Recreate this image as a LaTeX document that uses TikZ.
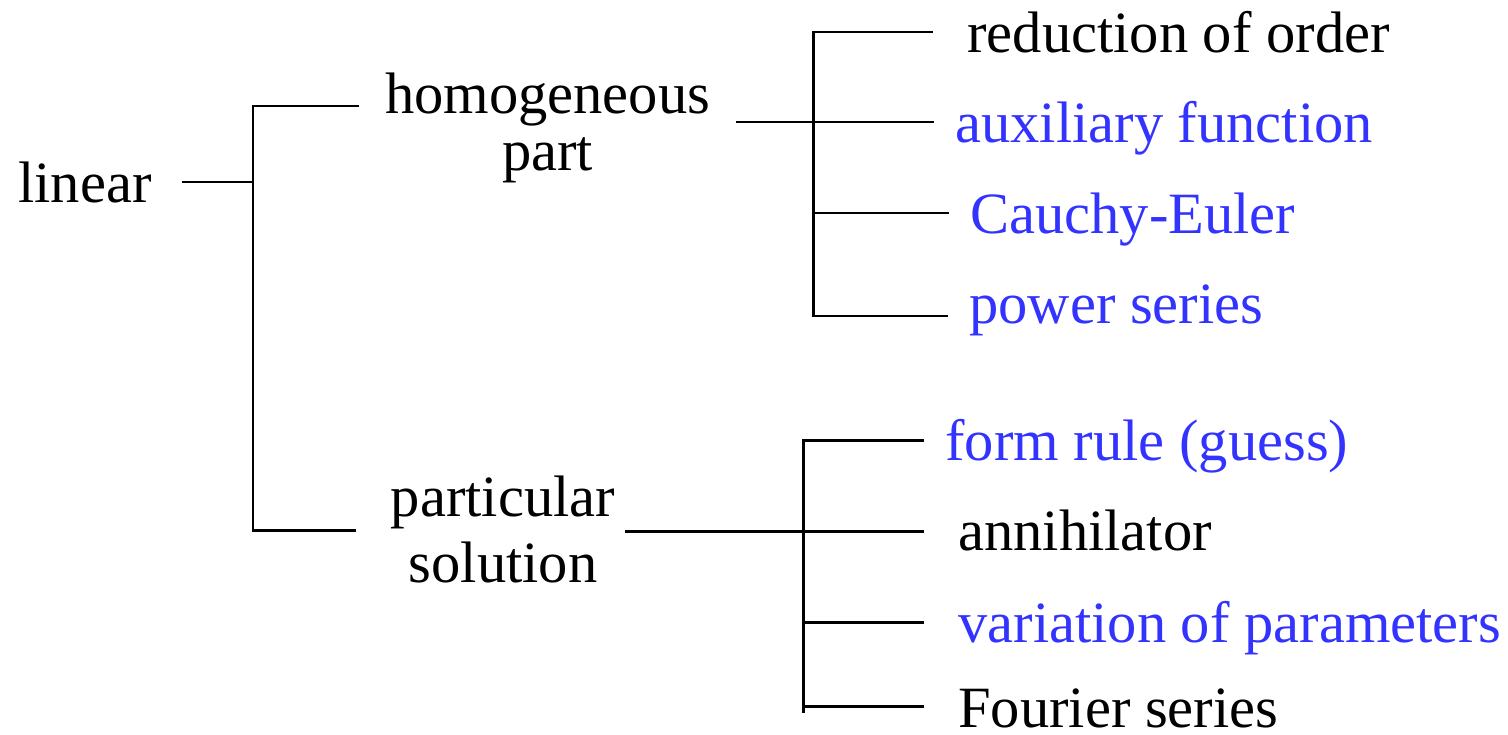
\documentclass[tikz,border=0pt]{standalone}
\usepackage{fontspec}
\setmainfont{Liberation Serif}
\definecolor{methodblue}{RGB}{51,51,255}
\tikzset{
	label/.style={font=\fontsize{33.3}{32.4}\selectfont, inner ysep=0pt},
	leaf/.style={label, anchor=base west, inner xsep=0.42cm},
	wide/.style={inner xsep=0.68cm},
	bracket/.style={line width=1.7pt}
}
\begin{document}
\begin{tikzpicture}[x=0.02cm, y=-0.02cm]
		
		\useasboundingbox (0,0) rectangle (1508,734);
		
		%Root
		\node (linearNode) at (-12,202) [leaf, inner xsep=0.6cm]{linear};
		
		\node (homogeneousPart) at (547.5,170) [label, anchor=base, align=center, inner xsep=0.52cm]{homogeneous\\part};
		\node (particularSolution) at (503,582) [label, anchor=base, align=center, inner xsep=0.2cm]{particular\\[5pt]solution};
		
		\coordinate (trunkTop) at (253,106);
		\coordinate (trunkMid) at (253,182);
		\coordinate (trunkBottom) at (253,530);
		
		\draw[bracket] (linearNode.east |- trunkMid) -- (trunkMid);
		\draw[bracket] (homogeneousPart.west |- trunkTop) -- (trunkTop) -- (trunkBottom) -- ([xshift=-0.5cm]particularSolution.west |- trunkBottom);
		
		%Homogeneous part
		\node (reductionOrder) at (933,52) [leaf, wide]{reduction of order};
		\node (auxiliaryFunction) at (934,142) [leaf, text=methodblue]{auxiliary function};
		\node (cauchyEuler) at (949,233) [leaf, text=methodblue]{Cauchy-Euler};
		\node (powerSeries) at (948,323) [leaf, text=methodblue]{power series};
		
		\coordinate (hpBranch1) at (813,32);
		\coordinate (hpBranch2) at (813,122);
		\coordinate (hpBranch3) at (813,213);
		\coordinate (hpBranch4) at (813,316);
		
		\draw[bracket] (reductionOrder.west |- hpBranch1) -- (hpBranch1) -- (hpBranch4) -- (hpBranch4 -| powerSeries.west);
		\draw[bracket] (homogeneousPart.east |- hpBranch2) -- (hpBranch2 -| auxiliaryFunction.west);
		\draw[bracket] (hpBranch3) -- (hpBranch3 -| cauchyEuler.west);
		
		%Particular solution
		\node (formRule) at (924,460) [leaf, text=methodblue]{form rule (guess)};
		\node (annihilator) at (924,550) [leaf, wide]{annihilator};
		\node (variationParameters) at (924,642) [leaf, wide, text=methodblue]{variation of parameters};
		\node (fourierSeries) at (924,727) [leaf, wide]{Fourier series};
		
		\coordinate (psBranch1) at (803,440);
		\coordinate (psBranch2) at (803,531);
		\coordinate (psBranch3) at (803,622);
		\coordinate (psBranch4) at (803,706);
		
		\draw[bracket] (formRule.west |- psBranch1) -- (psBranch1) -- ([yshift=-0.14cm]psBranch4);
		\draw[bracket] (particularSolution.east |- psBranch2) -- (psBranch2 -| annihilator.west);
		\draw[bracket] (psBranch3) -- (psBranch3 -| variationParameters.west);
		\draw[bracket] (psBranch4) -- (psBranch4 -| fourierSeries.west);
		
\end{tikzpicture}
\end{document}
